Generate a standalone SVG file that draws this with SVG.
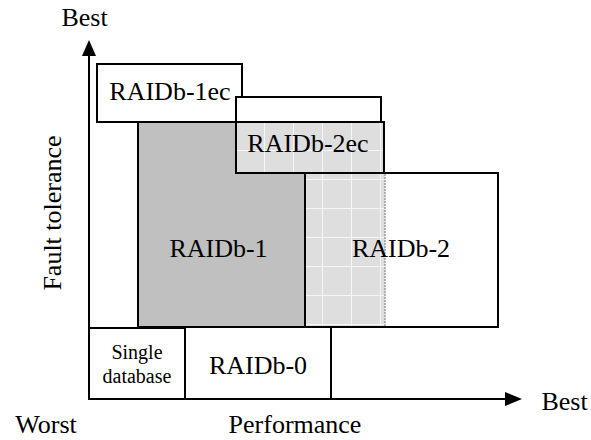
<svg xmlns="http://www.w3.org/2000/svg" width="591" height="440" viewBox="0 0 591 440">
<style>
text{font-family:"Liberation Serif","Times New Roman",serif;fill:#000;text-anchor:middle}
.lbl{font-size:26px}
.sm{font-size:20px}
.box{stroke:#000;stroke-width:2}
.axis{stroke:#000;stroke-width:2;fill:none}
</style>
<defs>
<pattern id="grid" x="236" y="122" width="29" height="29" patternUnits="userSpaceOnUse">
<rect width="29" height="29" fill="#dedede"/>
<path d="M28.5 0V29M0 28.5H29" stroke="#f6f6f6" stroke-width="1"/>
</pattern>
</defs>
<rect width="591" height="440" fill="#fff"/>
<g id="raidb-1ec"><rect class="box" x="97" y="64" width="145" height="58" fill="#fff"/><text class="lbl" x="170" y="100">RAIDb-1ec</text></g>
<g id="raidb-1"><rect class="box" x="138" y="122" width="167" height="205" fill="#c0c0c0"/><text class="lbl" x="218.5" y="257">RAIDb-1</text></g>
<g id="raidb-2ec-outer"><rect class="box" x="236" y="97" width="145" height="76" fill="#fff"/></g>
<g id="raidb-2"><rect class="box" x="305" y="173" width="193" height="154" fill="#fff"/><rect x="306" y="174" width="79" height="152" fill="url(#grid)"/><line x1="385" y1="174" x2="385" y2="326" stroke="#777" stroke-width="1" stroke-dasharray="2 1"/><text class="lbl" x="401" y="257">RAIDb-2</text></g>
<g id="raidb-2ec"><rect class="box" x="236" y="122" width="148" height="51" fill="url(#grid)"/><text class="lbl" x="308" y="152">RAIDb-2ec</text></g>
<g id="single"><rect class="box" x="89" y="328" width="96" height="71" fill="#fff"/><text class="sm" x="137" y="359">Single</text><text class="sm" x="137" y="383">database</text></g>
<g id="raidb-0"><rect class="box" x="185" y="327" width="146" height="72" fill="#fff"/><text class="lbl" x="258" y="374">RAIDb-0</text></g>
<g id="connectors">
<path class="axis" d="M89 54V399H506"/>
<polygon points="89,40 82,56 96,56" fill="#000"/>
<polygon points="522,399 505,392 505,406" fill="#000"/>
</g>
<g id="labels">
<text class="lbl" x="84.5" y="26">Best</text>
<text class="lbl" x="564.5" y="410">Best</text>
<text class="lbl" x="46" y="433">Worst</text>
<text class="lbl" x="295" y="433">Performance</text>
<text class="lbl" transform="translate(61 213) rotate(-90)">Fault tolerance</text>
</g>
</svg>
